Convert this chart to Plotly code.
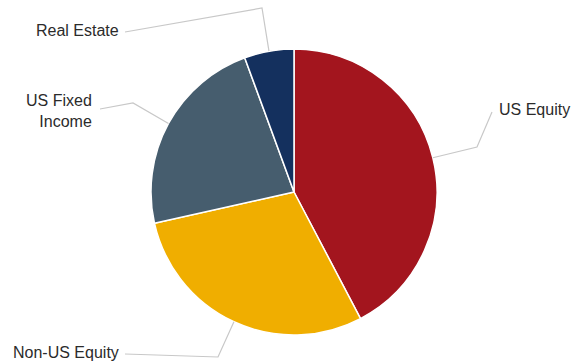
import math
import plotly.graph_objects as go

# ---- data ----
labels = ["US Equity", "Non-US Equity", "US Fixed Income", "Real Estate"]
label_text = ["US Equity", "Non-US Equity", "US Fixed<br>Income", "Real Estate"]
values = [42.3, 29.2, 22.9, 5.6]
colors = ["#A3151E", "#F0AE00", "#465D6E", "#14305E"]

# ---- layout constants (pixels) ----
W, H = 571, 363
CX, CY, R = 294, 192, 143

def px(x):
    return x / W

def py(y):
    return 1 - y / H

fig = go.Figure(go.Pie(
    labels=labels,
    values=values,
    sort=False,
    direction="clockwise",
    rotation=0,
    marker=dict(colors=colors, line=dict(color="white", width=1.5)),
    textinfo="none",
    hoverinfo="label+percent",
    domain=dict(x=[px(CX - R), px(CX + R)], y=[py(CY + R), py(CY - R)]),
    showlegend=False,
))

# leader-line elbow/end points and label anchors (pixels)
guides = [
    dict(pts=[(477, 147), (492, 112)], lx=497, ly=110, xa="left"),
    dict(pts=[(218, 357), (125, 354)], lx=121, ly=352, xa="right"),
    dict(pts=[(133, 103), (100, 109)], lx=94, ly=111, xa="right"),
    dict(pts=[(262, 8), (125, 32)], lx=121, ly=31, xa="right"),
]

total = sum(values)
cum = 0
shapes, annotations = [], []
for i, v in enumerate(values):
    mid = (cum + v / 2) / total * 2 * math.pi
    cum += v
    sx = CX + R * math.sin(mid)
    sy = CY - R * math.cos(mid)
    g = guides[i]
    pts = [(sx, sy)] + g["pts"]
    path = "M " + " L ".join(f"{px(x):.5f},{py(y):.5f}" for x, y in pts)
    shapes.append(dict(type="path", path=path, xref="paper", yref="paper",
                       line=dict(color="#C8C8C8", width=1.2)))
    annotations.append(dict(
        x=px(g["lx"]), y=py(g["ly"]), xref="paper", yref="paper",
        text=label_text[i], showarrow=False, xanchor=g["xa"], yanchor="middle",
        align="right" if g["xa"] == "right" else "left",
        font=dict(family="Liberation Sans, Arial, sans-serif", size=16, color="#2B2B2B"),
    ))

fig.update_layout(
    width=W, height=H,
    margin=dict(l=0, r=0, t=0, b=0),
    paper_bgcolor="white",
    plot_bgcolor="white",
    shapes=shapes,
    annotations=annotations,
)

fig.write_html("out.html", config={"displayModeBar": False},
               post_script="document.body.style.margin='0';")
